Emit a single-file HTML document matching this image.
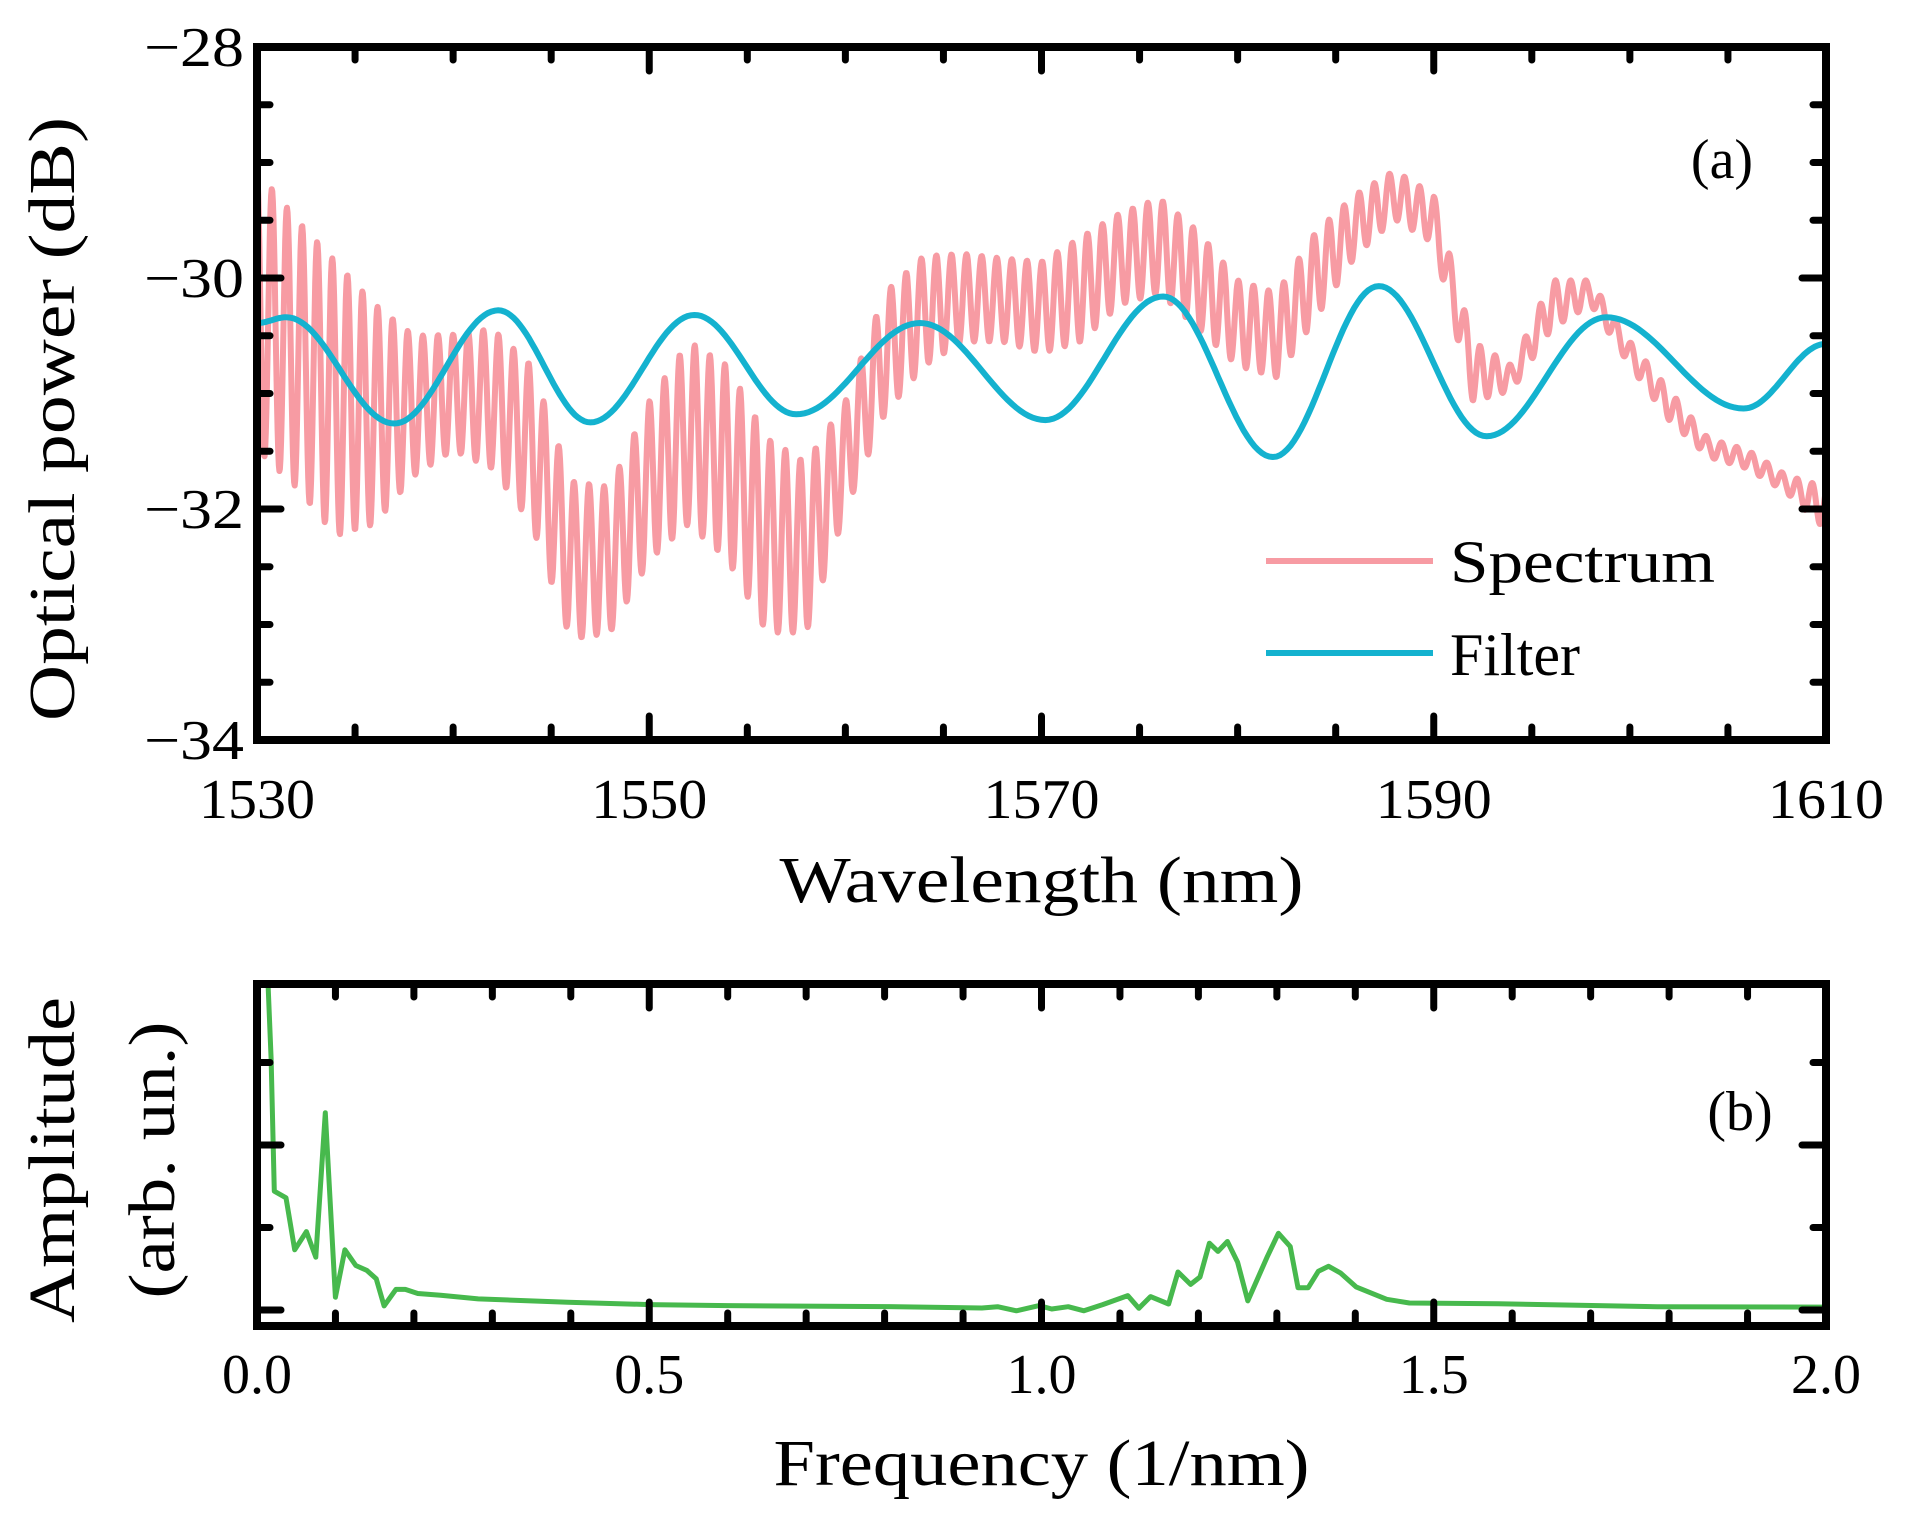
<!DOCTYPE html>
<html><head><meta charset="utf-8"><style>
html,body{margin:0;padding:0;background:#fff}
svg{display:block}
text{font-family:"Liberation Serif",serif;fill:#000}
</style></head><body>
<svg id="chart" width="1912" height="1533" viewBox="0 0 1912 1533" xmlns="http://www.w3.org/2000/svg">
<g id="panelA"></g>
<g id="panelB"></g>
</svg>
<script>
// ---- data (panel a) ----
const envX0 = 1530, envStep = 2;
const specUpper = [-29.07,-29.49,-29.86,-30.23,-30.5,-30.49,-30.44,-30.76,-31.76,-31.81,-31.07,-30.55,-30.76,-31.39,-31.6,-31.07,-30.13,-29.81,-29.79,-29.83,-29.86,-29.65,-29.44,-29.31,-29.6,-30.02,-30.13,-29.6,-29.28,-29.07,-29.28,-30.55,-30.76,-30.02,-30.02,-30.55,-30.97,-31.39,-31.49,-31.71,-31.81];
const specLower = [-31.49,-31.81,-32.23,-32.13,-31.71,-31.49,-31.65,-32.13,-33.13,-33.07,-32.44,-32.13,-32.44,-33.07,-33.07,-32.02,-31.18,-30.76,-30.55,-30.55,-30.65,-30.55,-30.23,-30.13,-30.44,-30.76,-30.86,-30.34,-29.81,-29.49,-29.7,-31.07,-30.97,-30.44,-30.23,-30.76,-31.23,-31.55,-31.65,-31.86,-32.18];
const fringePeriod = 0.77, fringePhase = 1530.76;
const filterX = [1530,1531.5,1537,1542.3,1547,1552.3,1557.5,1563.8,1570.2,1576.2,1581.8,1587.2,1592.7,1598.8,1605.8,1610];
const filterY = [-30.39,-30.34,-31.26,-30.28,-31.25,-30.32,-31.18,-30.39,-31.23,-30.16,-31.55,-30.07,-31.37,-30.34,-31.13,-30.57];
const xTicksA = [1530,1550,1570,1590,1610];
const yTicksA = [-28,-30,-32,-34];
// ---- data (panel b) ----
const fftF = [0.013,0.018,0.022,0.037,0.048,0.063,0.075,0.087,0.1,0.112,0.126,0.14,0.152,0.162,0.177,0.189,0.205,0.234,0.282,0.323,0.396,0.5,0.6,0.802,0.924,0.944,0.968,0.997,1.013,1.034,1.054,1.078,1.11,1.124,1.139,1.162,1.174,1.19,1.202,1.214,1.225,1.237,1.25,1.263,1.288,1.302,1.317,1.327,1.34,1.353,1.366,1.381,1.401,1.44,1.469,1.582,1.667,1.785,2.0];
const fftA = [4.2,3.05,1.44,1.36,0.73,0.95,0.64,2.39,0.155,0.73,0.54,0.48,0.38,0.05,0.25,0.25,0.2,0.18,0.135,0.12,0.094,0.065,0.053,0.041,0.024,0.04,-0.01,0.053,0.012,0.04,-0.01,0.065,0.175,0.02,0.163,0.073,0.46,0.31,0.4,0.81,0.71,0.83,0.58,0.11,0.65,0.93,0.77,0.27,0.27,0.47,0.53,0.45,0.28,0.13,0.085,0.075,0.06,0.04,0.035];
const xTicksB = ["0.0","0.5","1.0","1.5","2.0"];

const NS="http://www.w3.org/2000/svg";
function mk(parent,tag,attrs,txt){const e=document.createElementNS(NS,tag);for(const k in attrs)e.setAttribute(k,attrs[k]);if(txt!==undefined)e.textContent=txt;parent.appendChild(e);return e;}
const L=257,R=1826;
const aT=47,aB=740;
const xa=v=>L+(v-1530)/80*(R-L);
const ya=v=>aT+(-28-v)/6*(aB-aT);
const bT=984,bB=1326;
const xb=v=>L+v/2*(R-L);
const yb=v=>1310-v*82.5;

const gA=document.getElementById('panelA'), gB=document.getElementById('panelB');
function envAt(arr,x){const t=(x-envX0)/envStep;let i=Math.floor(t);if(i<0)i=0;if(i>=arr.length-1)i=arr.length-2;const f=t-i;return arr[i]*(1-f)+arr[i+1]*f;}

const defs=mk(document.getElementById('chart'),'defs',{});
const cpA=mk(defs,'clipPath',{id:'cpA'});mk(cpA,'rect',{x:L,y:aT,width:R-L,height:aB-aT});
const cpB=mk(defs,'clipPath',{id:'cpB'});mk(cpB,'rect',{x:L,y:bT,width:R-L,height:bB-bT});

let d='';
for(let x=1530;x<=1610.0001;x+=0.03){const u=envAt(specUpper,x),lo=envAt(specLower,x);const m=(u+lo)/2,h=(u-lo)/2;const v=m+h*Math.cos(2*Math.PI*(x-fringePhase)/fringePeriod);d+=(d?'L':'M')+xa(x).toFixed(1)+','+ya(v).toFixed(1);}
const sp=mk(gA,'path',{d:d,fill:'none',stroke:'#F79BA3','stroke-width':6,'stroke-linejoin':'round','clip-path':'url(#cpA)'});


d='';
for(let i=0;i<filterX.length-1;i++){for(let s=0;s<=30;s++){const f=s/30;const x=filterX[i]+(filterX[i+1]-filterX[i])*f;const v=filterY[i]+(filterY[i+1]-filterY[i])*(1-Math.cos(Math.PI*f))/2;d+=(d?'L':'M')+xa(x).toFixed(1)+','+ya(v).toFixed(1);}}
const fl=mk(gA,'path',{d:d,fill:'none',stroke:'#14B2CF','stroke-width':6,'clip-path':'url(#cpA)'});



const fa=mk(gA,'rect',{x:L,y:aT,width:R-L,height:aB-aT,fill:'none',stroke:'#000','stroke-width':8});


for(let v=1535;v<1610;v+=5){const big=(v-1530)%20===0;const len=big?24:13;const x=xa(v);
 mk(gA,'line',{x1:x,y1:aB,x2:x,y2:aB-len,stroke:'#000','stroke-width':7,'stroke-linecap':'round'});
 mk(gA,'line',{x1:x,y1:aT,x2:x,y2:aT+len,stroke:'#000','stroke-width':7,'stroke-linecap':'round'});}
for(let v=-28.5;v>-34;v-=0.5){const big=Math.abs(v%2)<1e-6;const len=big?24:13;const y=ya(v);
 mk(gA,'line',{x1:L,y1:y,x2:L+len,y2:y,stroke:'#000','stroke-width':7,'stroke-linecap':'round'});
 mk(gA,'line',{x1:R,y1:y,x2:R-len,y2:y,stroke:'#000','stroke-width':7,'stroke-linecap':'round'});}
xTicksA.forEach(v=>{const t=mk(gA,'text',{x:xa(v),y:818,'font-size':56,'text-anchor':'middle',textLength:116,lengthAdjust:'spacingAndGlyphs'},String(v));
 
 });
yTicksA.forEach(v=>{const t=mk(gA,'text',{x:244,y:ya(v)+19,'font-size':56,'text-anchor':'end',textLength:100,lengthAdjust:'spacingAndGlyphs'},'\u2212'+Math.abs(v));
 
 });
let t=mk(gA,'text',{x:(L+R)/2,y:902,'font-size':66,'text-anchor':'middle',textLength:524,lengthAdjust:'spacingAndGlyphs'},'Wavelength (nm)');


t=mk(gA,'text',{x:0,y:0,'font-size':66,'text-anchor':'middle',transform:'translate(74,419) rotate(-90)',textLength:604,lengthAdjust:'spacingAndGlyphs'},'Optical power (dB)');


t=mk(gA,'text',{x:1722,y:178,'font-size':56,'text-anchor':'middle'},'(a)');


const lg=mk(gA,'g',{});


mk(lg,'line',{x1:1266,y1:561,x2:1433,y2:561,stroke:'#F79BA3','stroke-width':6});
t=mk(lg,'text',{x:1450,y:582,'font-size':60,textLength:265,lengthAdjust:'spacingAndGlyphs'},'Spectrum');


mk(lg,'line',{x1:1266,y1:653,x2:1433,y2:653,stroke:'#14B2CF','stroke-width':6});
t=mk(lg,'text',{x:1450,y:675,'font-size':60},'Filter');



d='';fftF.forEach((f,i)=>{d+=(i?'L':'M')+xb(f).toFixed(1)+','+yb(fftA[i]).toFixed(1);});
const fp=mk(gB,'path',{d:d,fill:'none',stroke:'#47B94D','stroke-width':5,'stroke-linejoin':'round','clip-path':'url(#cpB)'});


const fb=mk(gB,'rect',{x:L,y:bT,width:R-L,height:bB-bT,fill:'none',stroke:'#000','stroke-width':8});


for(let k=1;k<20;k++){const big=k%5===0;const len=big?24:13;const x=xb(k/10);
 mk(gB,'line',{x1:x,y1:bB,x2:x,y2:bB-len,stroke:'#000','stroke-width':7,'stroke-linecap':'round'});
 mk(gB,'line',{x1:x,y1:bT,x2:x,y2:bT+len,stroke:'#000','stroke-width':7,'stroke-linecap':'round'});}
for(let k=0;k<4;k++){const big=k%2===0;const len=big?24:13;const y=yb(k);
 mk(gB,'line',{x1:L,y1:y,x2:L+len,y2:y,stroke:'#000','stroke-width':7,'stroke-linecap':'round'});
 mk(gB,'line',{x1:R,y1:y,x2:R-len,y2:y,stroke:'#000','stroke-width':7,'stroke-linecap':'round'});}
xTicksB.forEach(s=>{const tt=mk(gB,'text',{x:xb(parseFloat(s)),y:1393,'font-size':56,'text-anchor':'middle'},s);
 
 });
t=mk(gB,'text',{x:(L+R)/2,y:1485,'font-size':66,'text-anchor':'middle',textLength:536,lengthAdjust:'spacingAndGlyphs'},'Frequency (1/nm)');


t=mk(gB,'text',{x:0,y:0,'font-size':66,'text-anchor':'middle',transform:'translate(74,1160) rotate(-90)',textLength:326,lengthAdjust:'spacingAndGlyphs'},'Amplitude');


t=mk(gB,'text',{x:0,y:0,'font-size':66,'text-anchor':'middle',transform:'translate(174,1160) rotate(-90)',textLength:277,lengthAdjust:'spacingAndGlyphs'},'(arb. un.)');


t=mk(gB,'text',{x:1740,y:1130,'font-size':56,'text-anchor':'middle'},'(b)');


</script>
</body></html>
